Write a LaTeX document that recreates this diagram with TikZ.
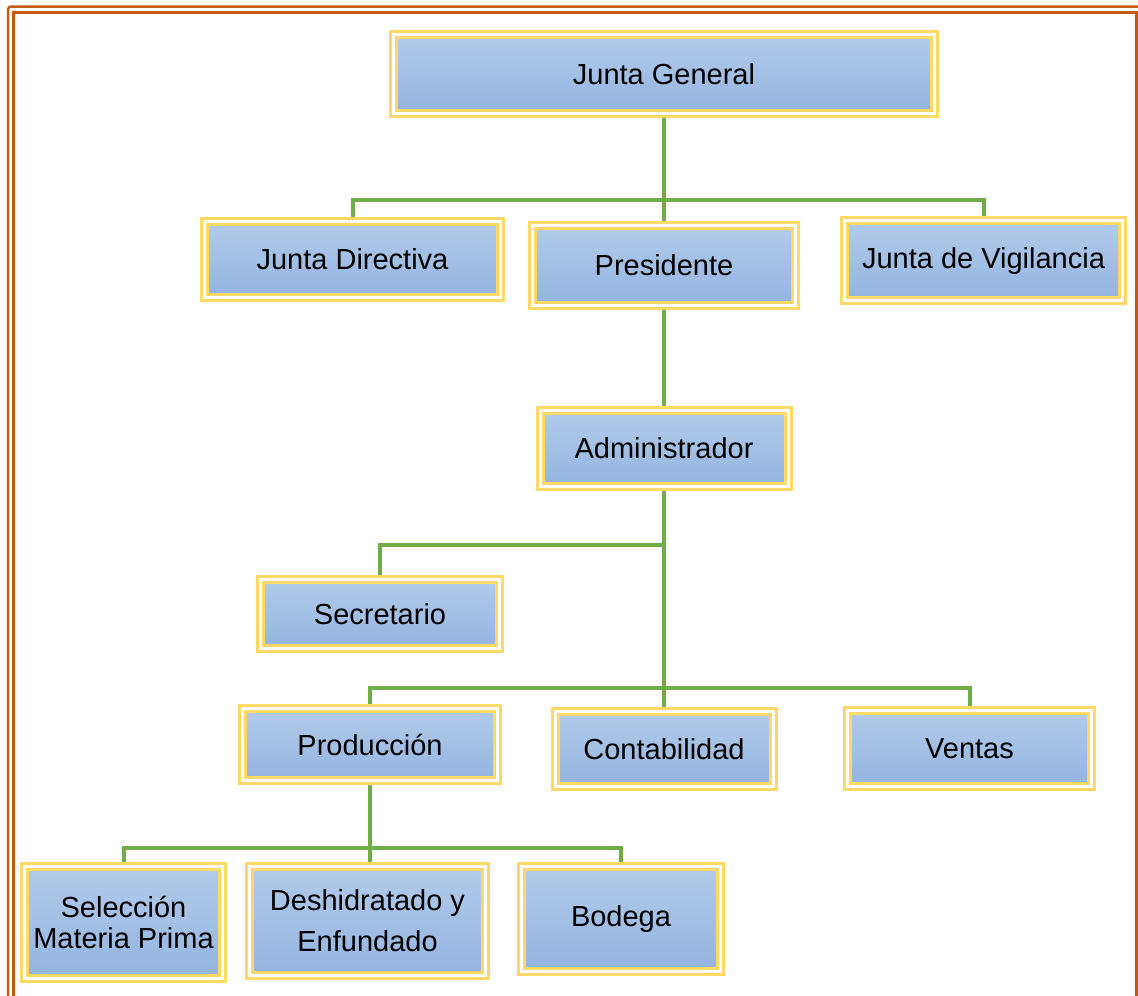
\documentclass[tikz,border=0pt]{standalone}
\usepackage{fontspec}
\setmainfont{Liberation Sans}
\usetikzlibrary{backgrounds}
\definecolor{frameorange}{HTML}{C55A11}
\definecolor{boxyellow}{HTML}{FFD966}
\definecolor{boxtop}{HTML}{B2CBEA}
\definecolor{boxbot}{HTML}{93B4E0}
\definecolor{linkgreen}{HTML}{70AD47}
\begin{document}
\begin{tikzpicture}[x=1pt,y=-1pt,
  orgbox/.style={draw=boxyellow, line width=3pt, double=white, double distance=3pt,
    top color=boxtop, bottom color=boxbot, inner sep=0pt, align=center,
    font=\fontsize{29}{33}\selectfont},
  link/.style={draw=linkgreen, line width=4pt}]
\useasboundingbox (0,0) rectangle (1138,996);
\begin{scope}
\clip (0,0) rectangle (1138,996);
\draw[frameorange, line width=2.5pt, rounded corners=3pt] (8,6.5) rectangle (1150,1010);
\draw[frameorange, line width=3.5pt] (13.5,12.5) rectangle (1137,1005);
\end{scope}

\node[orgbox, minimum width=541pt, minimum height=79pt] (jg) at (664,74) {Junta General};
\node[orgbox, minimum width=296pt, minimum height=76pt] (jd) at (352.5,259.5) {Junta Directiva};
\node[orgbox, minimum width=263pt, minimum height=80pt] (pres) at (664,265.5) {Presidente};
\node[orgbox, minimum width=278pt, minimum height=80pt] (jv) at (983.5,260.5) {Junta de Vigilancia};
\node[orgbox, minimum width=248pt, minimum height=76pt] (adm) at (664,448.5) {Administrador};
\node[orgbox, minimum width=239pt, minimum height=69pt] (sec) at (380,614) {Secretario};
\node[orgbox, minimum width=255pt, minimum height=72pt] (prod) at (370,744.5) {Producción};
\node[orgbox, minimum width=218pt, minimum height=75pt] (cont) at (664,749) {Contabilidad};
\node[orgbox, minimum width=244pt, minimum height=76pt] (ven) at (969.5,748.5) {Ventas};
\node[orgbox, minimum width=198pt, minimum height=112pt, font=\fontsize{29}{31}\selectfont] (smp) at (123.5,922.5) {Selección\\Materia Prima};
\node[orgbox, minimum width=236pt, minimum height=109pt, font=\fontsize{29}{41}\selectfont] (dye) at (367.5,921) {Deshidratado y\\Enfundado};
\node[orgbox, minimum width=199pt, minimum height=105pt] (bod) at (621,919) {Bodega};

\coordinate (j1) at (664,200);
\coordinate (j2) at (664,545);
\coordinate (j3) at (664,688);
\coordinate (j4) at (370,848);

\begin{pgfonlayer}{background}
\draw[link] (jg.south) -- (j1);
\draw[link] (jd.north) |- (j1) -| (jv.north);
\draw[link] (j1) -- (pres.north);
\draw[link] (pres.south) -- (adm.north);
\draw[link] (adm.south) -- (j3);
\draw[link] (j2) -| (sec.north);
\draw[link] (prod.north) |- (j3) -| (ven.north);
\draw[link] (j3) -- (cont.north);
\draw[link] (prod.south) -- (j4);
\draw[link] (smp.north) |- (j4) -| (bod.north);
\draw[link] (j4) -- (j4 |- dye.north);
\end{pgfonlayer}
\end{tikzpicture}
\end{document}
